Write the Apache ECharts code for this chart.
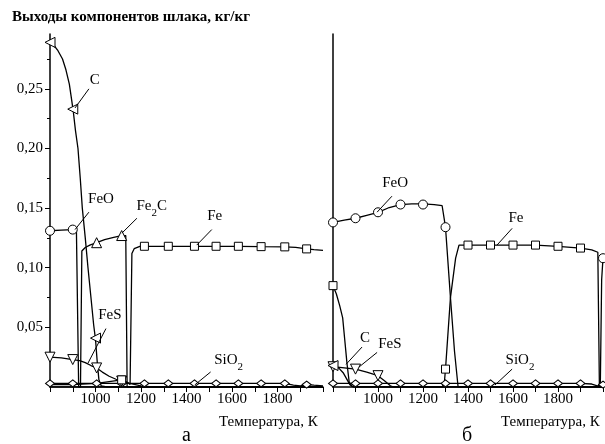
<!DOCTYPE html>
<html><head><meta charset="utf-8">
<script src="https://cdn.jsdelivr.net/npm/echarts@6/dist/echarts.min.js"></script>
<style>html,body{margin:0;padding:0;background:#fff}#c{width:605px;height:444px}</style>
</head><body><div id="c"></div>
<script>
// ---------- DATA (temperature K, yield kg/kg) ----------
// Panel "а"
const a_C_line = [[800,0.289],[815,0.287],[835,0.282],[855,0.275],[870,0.266],[885,0.254],[895,0.241],[903,0.230],[912,0.215],[923,0.200],[933,0.175],[942,0.150],[955,0.125],[967,0.100],[980,0.075],[992,0.052],[1000,0.040],[1008,0.020],[1015,0.006],[1025,0.001],[1050,0],[2000,0]];
const a_C_pts = [[800,0.289],[900,0.233],[1000,0.041]];
const a_FeO_line = [[800,0.131],[850,0.1315],[900,0.132],[916,0.133],[926,0],[2000,0]];
const a_FeO_pts = [[800,0.131],[900,0.132]];
const a_Fe2C_line = [[800,0],[934,0],[940,0.114],[955,0.117],[975,0.119],[1005,0.121],[1040,0.1235],[1080,0.1255],[1115,0.127],[1133,0.127],[1139,0],[2000,0]];
const a_Fe2C_pts = [[1005,0.121],[1115,0.127]];
const a_Fe_line = [[800,0.002],[900,0.002],[1005,0.003],[1115,0.006],[1140,0.004],[1152,0.002],[1160,0.112],[1170,0.116],[1195,0.118],[1435,0.118],[1628,0.118],[1728,0.1177],[1832,0.1175],[1880,0.117],[1928,0.1158],[1960,0.1152],[2000,0.1145]];
const a_Fe_pts = [[1115,0.006],[1215,0.118],[1320,0.118],[1435,0.118],[1530,0.118],[1628,0.118],[1728,0.1177],[1832,0.1175],[1928,0.1158]];
const a_FeS_line = [[800,0.025],[850,0.0245],[900,0.023],[930,0.0222],[955,0.0205],[980,0.018],[1005,0.016],[1030,0.0125],[1060,0.009],[1090,0.0065],[1115,0.005],[1150,0.003],[1200,0.001],[1250,0],[2000,0]];
const a_FeS_pts = [[800,0.025],[900,0.023],[1005,0.016],[1115,0.005]];
const a_SiO2_line = [[800,0.003],[1832,0.003],[1870,0.0015],[1900,0.001],[1928,0.002],[1960,0.0015],[2000,0.001]];
const a_SiO2_pts = [[800,0.003],[900,0.003],[1005,0.003],[1115,0.003],[1215,0.003],[1320,0.003],[1435,0.003],[1530,0.003],[1628,0.003],[1728,0.003],[1832,0.003],[1928,0.002]];

// Panel "б"
const b_C_line = [[800,0.018],[825,0.016],[845,0.012],[860,0.007],[875,0.002],[890,0],[2000,0]];
const b_C_pts = [[800,0.018]];
const b_FeO_line = [[800,0.138],[850,0.140],[900,0.1415],[950,0.144],[1000,0.1465],[1050,0.1505],[1100,0.153],[1150,0.1535],[1200,0.1535],[1250,0.153],[1285,0.152],[1300,0.134],[1322,0.075],[1340,0.030],[1356,0],[1988,0],[1994,0.090],[2000,0.108]];
const b_FeO_pts = [[800,0.138],[900,0.1415],[1000,0.1465],[1100,0.153],[1200,0.153],[1300,0.134],[2000,0.108]];
const b_Fe_line = [[800,0.085],[815,0.078],[830,0.068],[843,0.058],[852,0.040],[862,0.020],[872,0.004],[885,0.0005],[900,0],[1285,0],[1295,0.004],[1300,0.015],[1322,0.075],[1345,0.108],[1360,0.119],[1400,0.119],[1700,0.119],[1800,0.118],[1900,0.1165],[1950,0.115],[1977,0.113],[1984,0],[2000,0]];
const b_Fe_pts = [[800,0.085],[1300,0.015],[1400,0.119],[1500,0.119],[1600,0.119],[1700,0.119],[1800,0.118],[1900,0.1165]];
const b_FeS_line = [[800,0.017],[850,0.016],[900,0.015],[950,0.0125],[1000,0.0095],[1030,0.005],[1055,0.001],[1070,0],[2000,0]];
const b_FeS_pts = [[800,0.017],[900,0.015],[1000,0.0095]];
const b_SiO2_line = [[800,0.003],[1900,0.003],[1950,0.0025],[1975,0.001],[2000,0.002]];
const b_SiO2_pts = [[800,0.003],[900,0.003],[1000,0.003],[1100,0.003],[1200,0.003],[1300,0.003],[1400,0.003],[1500,0.003],[1600,0.003],[1700,0.003],[1800,0.003],[1900,0.003],[2000,0.002]];

// Tick labels
const xTickLabels = [1000, 1200, 1400, 1600, 1800];
const yTickLabels = [0.05, 0.10, 0.15, 0.20, 0.25];

// Annotation labels: text, text anchor (data coords), leader line (data coords)
const a_notes = [
  {t:'C', at:[997,0.257], from:[971,0.250], to:[910,0.234]},
  {t:'FeO', at:[1024,0.158], from:[971,0.1466], to:[910,0.132]},
  {t:'{a|Fe}{s|2}{a|C}', at:[1247,0.151], from:[1182,0.1415], to:[1116,0.129]},
  {t:'Fe', at:[1524,0.143], from:[1511,0.132], to:[1445,0.119]},
  {t:'FeS', at:[1063,0.060], from:[1046,0.049], to:[967,0.020]},
  {t:'{a|SiO}{s|2}', at:[1585,0.0215], from:[1506,0.0126], to:[1436,0.0017]}
];
const b_notes = [
  {t:'FeO', at:[1076,0.171], from:[1062,0.160], to:[996,0.1466]},
  {t:'Fe', at:[1613,0.1415], from:[1596,0.133], to:[1529,0.119]},
  {t:'C', at:[942,0.041], from:[929,0.0335], to:[858,0.019]},
  {t:'FeS', at:[1053,0.036], from:[996,0.029], to:[916,0.0168]},
  {t:'{a|SiO}{s|2}', at:[1631,0.0215], from:[1596,0.015], to:[1520,0.0017]}
];

// ---------- CHART ----------
const FONT = "'Liberation Serif','Times New Roman',serif";
const BLACK = '#000';
const chart = echarts.init(document.getElementById('c'), null, {renderer:'canvas'});

function xAxis(gi){
  return {
    gridIndex: gi, type:'value', min:800, max:2000, interval:200,
    axisLine:{show:true, onZero:false, lineStyle:{color:BLACK, width:1.5}},
    axisTick:{show:true, inside:false, length:5, lineStyle:{color:BLACK, width:1}},
    minorTick:{show:true, splitNumber:2, length:5, lineStyle:{color:BLACK, width:1}},
    splitLine:{show:false}, minorSplitLine:{show:false},
    axisLabel:{show:true, customValues:xTickLabels, margin:5, color:BLACK, fontFamily:FONT, fontSize:15,
      formatter:(v)=>String(v)}
  };
}
function yAxis(gi, labels){
  return {
    gridIndex: gi, type:'value', min:0, max:0.296, interval:0.05,
    axisLine:{show:true, onZero:false, lineStyle:{color:BLACK, width:1.5}},
    axisTick:{show:labels, inside:false, length:5, customValues:yTickLabels, lineStyle:{color:BLACK, width:1}},
    minorTick:{show:labels, splitNumber:2, length:3, lineStyle:{color:BLACK, width:1}},
    splitLine:{show:false}, minorSplitLine:{show:false},
    axisLabel:{show:labels, customValues:yTickLabels, margin:7, color:BLACK, fontFamily:FONT, fontSize:15,
      formatter:(v)=>v.toFixed(2).replace('.', ',')}
  };
}

function lineSeries(gi, data, extra){
  return Object.assign({
    type:'line', xAxisIndex:gi, yAxisIndex:gi, data:data, showSymbol:false, symbol:'none',
    lineStyle:{color:BLACK, width:1.3}, z:2, silent:true, clip:true
  }, extra||{});
}
function markerSeries(gi, data, symbol, size, rotate){
  return {
    type:'scatter', xAxisIndex:gi, yAxisIndex:gi, data:data, symbol:symbol, symbolSize:size,
    symbolRotate:rotate||0,
    itemStyle:{color:'#fff', borderColor:BLACK, borderWidth:1, opacity:1}, z:3, silent:true, clip:false
  };
}
const rich = {
  a:{fontFamily:FONT, fontSize:15, color:BLACK, verticalAlign:'top', lineHeight:17},
  s:{fontFamily:FONT, fontSize:11, color:BLACK, verticalAlign:'top', lineHeight:11, padding:[9,0,0,0]}
};
function notesSeries(gi, notes){
  return {
    type:'line', xAxisIndex:gi, yAxisIndex:gi, data:[], silent:true, z:4,
    markPoint:{
      symbol:'rect', symbolSize:1, itemStyle:{color:'rgba(0,0,0,0)'},
      label:{show:true, position:'inside', color:BLACK, fontFamily:FONT, fontSize:15, rich:rich},
      data: notes.map(n=>({coord:n.at, label:{formatter:n.t}}))
    },
    markLine:{
      symbol:['none','none'], silent:true, animation:false,
      lineStyle:{color:BLACK, width:1, type:'solid'},
      label:{show:false},
      data: notes.map(n=>[{coord:n.from},{coord:n.to}])
    }
  };
}

const series = [
  // panel а
  lineSeries(0, a_SiO2_line), lineSeries(0, a_FeS_line), lineSeries(0, a_Fe_line),
  lineSeries(0, a_Fe2C_line), lineSeries(0, a_FeO_line), lineSeries(0, a_C_line),
  markerSeries(0, a_SiO2_pts, 'diamond', [9,7]),
  markerSeries(0, a_FeS_pts, 'triangle', 10, 180),
  markerSeries(0, a_Fe_pts, 'rect', 8),
  markerSeries(0, a_Fe2C_pts, 'triangle', 10),
  markerSeries(0, a_FeO_pts, 'circle', 9),
  markerSeries(0, a_C_pts, 'triangle', 10, 90),
  notesSeries(0, a_notes),
  // panel б
  lineSeries(1, b_SiO2_line), lineSeries(1, b_FeS_line), lineSeries(1, b_Fe_line),
  lineSeries(1, b_FeO_line), lineSeries(1, b_C_line),
  markerSeries(1, b_SiO2_pts, 'diamond', [9,7]),
  markerSeries(1, b_FeS_pts, 'triangle', 10, 180),
  markerSeries(1, b_Fe_pts, 'rect', 8),
  markerSeries(1, b_FeO_pts, 'circle', 9),
  markerSeries(1, b_C_pts, 'triangle', 10, 90),
  notesSeries(1, b_notes)
];

const tStyle = {fontFamily:FONT, fontSize:15, fontWeight:'normal', color:BLACK};
chart.setOption({
  animation:false,
  backgroundColor:'#fff',
  title:[
    {text:'Выходы компонентов шлака, кг/кг', left:12, top:10, padding:0,
      textStyle:{fontFamily:FONT, fontSize:15, fontWeight:'bold', color:BLACK}},
    {text:'Температура, К', left:219, top:415, padding:0, textStyle:tStyle},
    {text:'а', left:182, top:426, padding:0, textStyle:Object.assign({}, tStyle, {fontSize:20})},
    {text:'Температура, К', left:501, top:415, padding:0, textStyle:tStyle},
    {text:'б', left:462, top:426, padding:0, textStyle:Object.assign({}, tStyle, {fontSize:20})}
  ],
  grid:[
    {left:50, top:34, width:273, height:353, containLabel:false},
    {left:333, top:34, width:270, height:353, containLabel:false}
  ],
  xAxis:[xAxis(0), xAxis(1)],
  yAxis:[yAxis(0, true), yAxis(1, false)],
  series: series
});
</script>
</body></html>
